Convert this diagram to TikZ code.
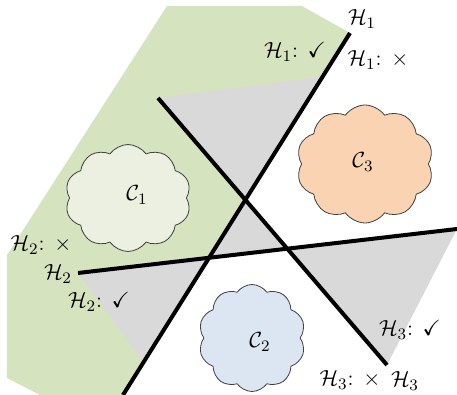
\documentclass[tikz,border=0pt]{standalone}
\usepackage{amssymb}
\usetikzlibrary{shapes.symbols}
\definecolor{greenreg}{RGB}{214,227,191}
\definecolor{grayreg}{RGB}{217,217,217}
\definecolor{cone}{RGB}{235,240,224}
\definecolor{ctwo}{RGB}{220,230,242}
\definecolor{cthree}{RGB}{250,212,178}
\begin{document}
\begin{tikzpicture}[x=0.5pt,y=-0.5pt,
  hline/.style={line width=2pt},
  cloudnode/.style={cloud, cloud puffs=10, cloud puff arc=110, draw=black!75, line width=0.4pt, inner sep=0pt},
  lbl/.style={inner sep=0pt, font=\fontsize{11}{13}\selectfont}]
\useasboundingbox (0,0) rectangle (457,395);
\coordinate (h1a) at (350,33);
\coordinate (h1b) at (123,395);
\coordinate (h2a) at (78,273);
\coordinate (h2b) at (457,229);
\coordinate (h3a) at (158,98);
\coordinate (h3b) at (387,365);
\coordinate (i13) at (intersection of h1a--h1b and h3a--h3b);
\coordinate (i12) at (intersection of h1a--h1b and h2a--h2b);
\coordinate (i23) at (intersection of h2a--h2b and h3a--h3b);
% regions
\fill[greenreg] (167,6) -- (302,6) -- (h1a) -- (h1b) -- (40,395) -- (7,378) -- (7,255) -- cycle;
\fill[grayreg] (h3a) -- (321.5,77) -- (i13) -- cycle;
\fill[grayreg] (i13) -- (i12) -- (i23) -- cycle;
\fill[grayreg] (h2a) -- (i12) -- (143.5,362) -- cycle;
\fill[grayreg] (i23) -- (h2b) -- (h3b) -- cycle;
% clouds
\node[cloudnode, fill=cone, minimum width=63pt, minimum height=53.5pt, aspect=1.18] (c1) at (128,198) {};
\node[cloudnode, fill=cthree, minimum width=68.5pt, minimum height=59pt, aspect=1.16] (c3) at (365,164) {};
\node[cloudnode, fill=ctwo, minimum width=53.5pt, minimum height=53.5pt, aspect=1.0] (c2) at (252,338) {};
\node[lbl] (t1) at (137,195) {$\mathcal{C}_1$};
\node[lbl] (t3) at (363,162) {$\mathcal{C}_3$};
\node[lbl] (t2) at (260,342) {$\mathcal{C}_2$};
% lines
\draw[hline] (h1a) -- (h1b);
\draw[hline] (h2a) -- (h2b);
\draw[hline] (h3a) -- (h3b);
% labels
\node[lbl] (n1) at (362,19) {$\mathcal{H}_1$};
\node[lbl] (n1x) at (378,60) {$\mathcal{H}_1$: $\times$};
\node[lbl] (n1c) at (295,52) {$\mathcal{H}_1$: $\checkmark$};
\node[lbl] (n2x) at (41,245) {$\mathcal{H}_2$: $\times$};
\node[lbl] (n2) at (58,274) {$\mathcal{H}_2$};
\node[lbl] (n2c) at (99,302) {$\mathcal{H}_2$: $\checkmark$};
\node[lbl] (n3c) at (410,330) {$\mathcal{H}_3$: $\checkmark$};
\node[lbl] (n3x) at (350,380) {$\mathcal{H}_3$: $\times$};
\node[lbl] (n3) at (405,381) {$\mathcal{H}_3$};
\end{tikzpicture}
\end{document}
